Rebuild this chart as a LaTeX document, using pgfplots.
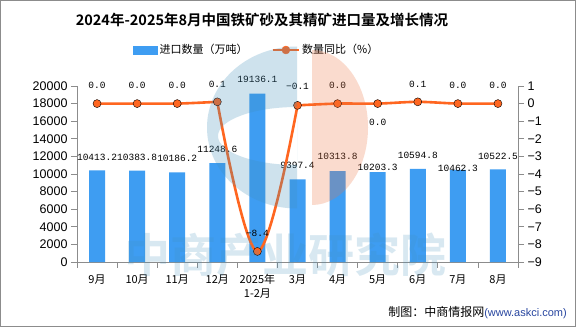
\documentclass[border=0pt]{standalone}
\usepackage{fontspec}
\setmainfont{Liberation Sans}
\newfontfamily\cjk{Noto Sans CJK SC}[BoldFont={Noto Sans CJK SC Bold}]
\newfontfamily\mono{Liberation Mono}
\usepackage{pgfplots}
\pgfplotsset{compat=1.18}
\usepackage{pgfplotstable}
\definecolor{barblue}{HTML}{3E9DF2}
\definecolor{lineorange}{HTML}{FF6620}
\definecolor{axisgray}{HTML}{8C8C8C}
\definecolor{wmblue}{RGB}{63,143,187}
\definecolor{wmsalmon}{RGB}{239,115,63}
\definecolor{urlblue}{RGB}{40,70,160}

\pgfplotstableread{
x vol vlab vdy
0 10413.2 10413.2 13
1 10383.8 10383.8 13
2 10186.2 10186.2 14
3 11248.6 11248.6 14
4 19136.1 19136.1 14.5
5 9397.4 9397.4 14
6 10313.8 10313.8 14.5
7 10203.3 10203.3 4.7
8 10594.8 10594.8 13
9 10462.3 10462.3 2
10 10522.5 10522.5 13.5
}\voldata

\pgfplotstableread{
x yoy ylab dy
0 0.0 0.0 18
1 0.0 0.0 18
2 0.0 0.0 18
3 0.1 0.1 17
4 -8.4 −8.4 18.5
5 -0.1 −0.1 19
6 0.0 0.0 18
7 0.0 0.0 -19
8 0.1 0.1 17
9 0.0 0.0 18
10 0.0 0.0 18
}\yoydata

\begin{document}
\begin{tikzpicture}
\useasboundingbox (0,0) rectangle (576bp,327bp);
\fill[white] (0,0) rectangle (576bp,327bp);

\begin{axis}[
  at={(77bp,65bp)}, anchor=south west, scale only axis,
  width=441bp, height=176bp,
  xmin=-0.5, xmax=10.5, ymin=0, ymax=20000,
  axis y line*=left, axis x line*=bottom,
  axis line style={axisgray, line width=0.8bp},
  xtick={-0.5,0.5,...,10.5}, x tick label as interval,
  xticklabels={9月,10月,11月,12月,{2025年\\1-2月},3月,4月,5月,6月,7月,8月},
  xticklabel style={font=\cjk\fontsize{11bp}{14bp}\selectfont, align=center, text=black, yshift=-3bp},
  ytick={0,2000,...,20000}, scaled y ticks=false,
  yticklabel style={font=\fontsize{12.5bp}{14bp}\selectfont, text=black},
  /pgf/number format/1000 sep={}, /pgf/number format/assume math mode=true,
  tick align=outside, major tick length=6bp,
  tick style={axisgray, line width=0.8bp},
  ybar, bar width=16bp,
  nodes near coords, point meta=explicit symbolic,
  visualization depends on={\thisrow{vdy} \as \vdy},
  every node near coord/.append style={font=\mono\fontsize{9.5bp}{10bp}\selectfont, anchor=center, yshift=\vdy bp, text=black},
  clip=false,
]
\addplot[fill=barblue, draw=none] table[x=x, y=vol, meta=vlab] \voldata;
\end{axis}

\begin{axis}[
  at={(77bp,65bp)}, anchor=south west, scale only axis,
  width=441bp, height=176bp,
  xmin=-0.5, xmax=10.5, ymin=-9, ymax=1,
  axis y line*=right, axis x line=none,
  axis line style={axisgray, line width=0.8bp},
  ytick={-9,-8,...,1},
  yticklabels={−9,−8,−7,−6,−5,−4,−3,−2,−1,0,1},
  yticklabel style={font=\fontsize{12.5bp}{14bp}\selectfont, text=black},
  tick align=outside, major tick length=6bp,
  tick style={axisgray, line width=0.8bp},
  clip=false,
  legend columns=2,
  legend style={draw=none, fill=none, inner sep=0pt, at={(0.127,1.2045)}, anchor=west,
    font=\cjk\fontsize{11bp}{13bp}\selectfont,
    /tikz/every even column/.append style={column sep=22bp}},
]
\addlegendimage{legend image code/.code={\fill[barblue] (0bp,-4bp) rectangle (24bp,4bp);}}
\addlegendentry{进口数量（万吨）}
\addlegendimage{legend image code/.code={\draw[lineorange, line width=2.6bp] (0bp,0bp) -- (26bp,0bp); \fill[lineorange] (13bp,0bp) circle (4bp);}}
\addlegendentry{数量同比（\%）}

\addplot[lineorange, line width=2.6bp, smooth, restrict x to domain=0:3, forget plot] table[x=x, y=yoy] \yoydata;
\addplot[lineorange, line width=2.6bp, smooth, tension=0.6, restrict x to domain=3:5, forget plot] table[x=x, y=yoy] \yoydata;
\addplot[lineorange, line width=2.6bp, smooth, restrict x to domain=5:10, forget plot] table[x=x, y=yoy] \yoydata;
\addplot[only marks, mark=*, mark size=4bp, mark options={fill=lineorange, draw=none},
  nodes near coords, point meta=explicit symbolic,
  visualization depends on={\thisrow{dy} \as \dy},
  every node near coord/.append style={font=\mono\fontsize{9.5bp}{10bp}\selectfont, anchor=center, yshift=\dy bp, text=black},
  forget plot] table[x=x, y=yoy, meta=ylab] \yoydata;
\end{axis}

% watermark logo
\begin{scope}
\clip (297bp,280.5bp) arc[start angle=90, end angle=270, x radius=90bp, y radius=81bp] -- cycle;
\fill[wmblue, opacity=0.25, even odd rule] (297bp,280.5bp) arc[start angle=90, end angle=270, x radius=90bp, y radius=81bp] -- cycle
  (297bp,191bp) ellipse [x radius=79bp, y radius=29bp];
\end{scope}
\fill[wmsalmon, opacity=0.25] (312bp,277bp) arc[start angle=90, end angle=-90, x radius=56bp, y radius=77.5bp] -- cycle;
\node[text=wmblue, opacity=0.2, font=\cjk\bfseries\fontsize{46bp}{46bp}\selectfont] at (285bp,72bp) {中商产业研究院};

\node[font=\cjk\bfseries\fontsize{14.5bp}{16bp}\selectfont] at (262bp,307bp) {2024年-2025年8月中国铁矿砂及其精矿进口量及增长情况};
\node[anchor=east, inner sep=0pt] at (567bp,14bp) {{\cjk\fontsize{12bp}{14bp}\selectfont 制图：中商情报网}{\color{urlblue}\fontsize{11bp}{13bp}\selectfont (www.askci.com)}};
\draw[axisgray, line width=1bp] (0.5bp,0.5bp) rectangle (575.5bp,326.5bp);
\end{tikzpicture}
\end{document}
